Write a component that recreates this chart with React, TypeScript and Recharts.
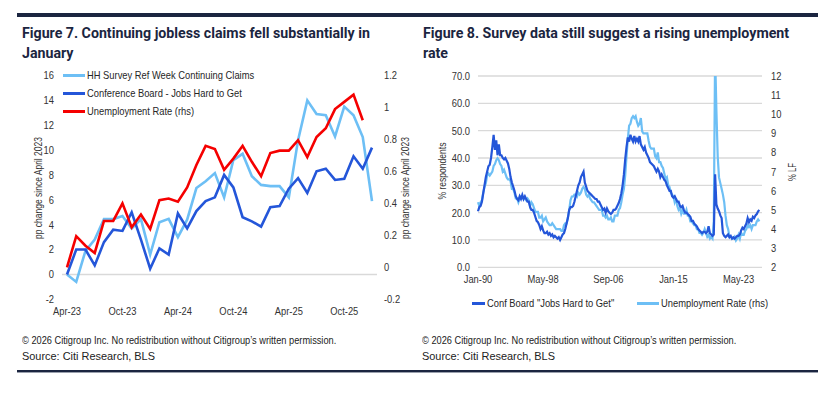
import React from 'react'
import {
  LineChart, Line, XAxis, YAxis, CartesianGrid, ReferenceLine, Legend,
} from 'recharts'

// Figure 7 – monthly, Apr-23 .. Jan-26, pp change since April 2023
const claimMonths = [
  'Apr-23', 'May-23', 'Jun-23', 'Jul-23', 'Aug-23', 'Sep-23', 'Oct-23', 'Nov-23', 'Dec-23',
  'Jan-24', 'Feb-24', 'Mar-24', 'Apr-24', 'May-24', 'Jun-24', 'Jul-24', 'Aug-24', 'Sep-24',
  'Oct-24', 'Nov-24', 'Dec-24', 'Jan-25', 'Feb-25', 'Mar-25', 'Apr-25', 'May-25', 'Jun-25',
  'Jul-25', 'Aug-25', 'Sep-25', 'Oct-25', 'Nov-25', 'Dec-25', 'Jan-26',
]
const hhContinuingClaims = [
  0, -0.6, 1.9, 2.8, 4.45, 4.45, 4.7, 3.7, 4.45, 1.6, 4.2, 4.47, 3.0, 4.4, 6.95, 7.5, 8.15,
  6.2, 9.2, 9.7, 7.9, 7.2, 7.1, 7.1, 6.2, 10.8, 14.0, 12.9, 12.8, 11.1, 13.5, 12.8, 11.05, 5.9,
]
const confBoardChange = [
  0, 2.0, 2.0, 0.73, 2.6, 3.6, 3.5, 5.0, 2.8, 0.46, 2.1, 1.6, 4.9, 3.7, 5.1, 5.9, 6.2,
  8.0, 7.0, 4.6, 4.27, 3.85, 5.4, 5.5, 6.9, 7.75, 6.55, 8.3, 8.5, 7.6, 7.7, 9.5, 8.5, 10.2,
]
const unempChange = [
  0, 0.195, 0.135, 0.09, 0.29, 0.29, 0.4, 0.25, 0.33, 0.24, 0.42, 0.43, 0.41, 0.5, 0.64,
  0.76, 0.74, 0.61, 0.68, 0.76, 0.66, 0.57, 0.715, 0.73, 0.73, 0.795, 0.69, 0.815, 0.87,
  0.99, 1.035, 1.08, 0.92, null,
]
const claimLeftTicks = [-2, 0, 2, 4, 6, 8, 10, 12, 14, 16]
const claimRightTicks = [-0.2, 0, 0.2, 0.4, 0.6, 0.8, 1, 1.2]

// Figure 8 – every second month (Jan, Mar, May, Jul, Sep, Nov), Jan-90 .. Jan-26
const jobsHardToGet = [
  20.5, 22, 22.5, 24, 27, 30, // 1990
  33, 35, 37, 37.5, 40, 44,
  48.5, 43, 46.5, 41, 45, 41,
  41, 40, 39.5, 40, 39, 38,
  36, 33, 31, 29.5, 28, 26,
  25, 24.5, 26, 25, 26.5, 25, // 1995
  26, 25, 24, 24, 22, 21,
  21, 20, 18.5, 17, 16.5, 15.5,
  14, 15, 13.5, 12.5, 12.5, 13,
  12, 12.5, 11.5, 12, 11, 11.5,
  11, 10.5, 11, 10, 11, 12, // 2000
  12.5, 14, 16, 18, 21, 22,
  22, 22.5, 24, 26, 28, 30,
  31, 33, 34, 35, 31, 29.5,
  28, 27.5, 27, 26.5, 26, 25.5,
  25, 25, 24, 24, 23, 22, // 2005
  21, 21.5, 20, 21.5, 20.5, 20,
  19.5, 20, 21, 21, 21.5, 22.5,
  23.5, 25, 27, 30, 34, 39.5,
  44, 47.5, 46, 48.5, 47, 46,
  48, 46, 47, 46, 48, 45, // 2010
  44, 43, 44, 42, 41, 40,
  38.5, 38, 37.5, 37, 36, 35,
  36, 35, 33, 34, 33, 32,
  31.5, 30, 29, 28, 28, 26,
  25.5, 26, 25, 24, 24, 22.5, // 2015
  22, 22.5, 21, 20, 20, 19.5,
  19, 18.5, 17, 17, 16, 15.5,
  15, 14, 13.5, 13, 12.5, 13,
  13, 12.5, 13, 15, 12.5, 12,
  11.5, 12, 34, 23, 21.5, 20.5, // 2020
  19, 18, 12.5, 11.5, 11, 11.5,
  12, 11, 11.5, 10.5, 11, 10.5,
  11, 11.5, 11.5, 12, 13.5, 14.5,
  14, 15, 16, 18, 16.5, 17.5,
  17, 18.5, 18, 19, 19.5, 20.5, // 2025
  21,
]
const unemploymentRate = [
  5.4, 5.2, 5.4, 5.5, 5.9, 6.2, // 1990
  6.4, 6.8, 6.9, 6.8, 6.9, 7.0,
  7.3, 7.4, 7.6, 7.7, 7.6, 7.4,
  7.3, 7.0, 7.1, 6.9, 6.7, 6.6,
  6.6, 6.5, 6.1, 6.1, 5.9, 5.6,
  5.6, 5.4, 5.6, 5.7, 5.6, 5.6, // 1995
  5.6, 5.5, 5.6, 5.5, 5.2, 5.4,
  5.3, 5.1, 4.9, 4.9, 4.9, 4.6,
  4.6, 4.7, 4.4, 4.5, 4.6, 4.4,
  4.3, 4.2, 4.2, 4.3, 4.2, 4.1,
  4.0, 4.0, 4.0, 4.0, 3.9, 3.9, // 2000
  4.2, 4.3, 4.3, 4.6, 5.0, 5.5,
  5.7, 5.7, 5.8, 5.8, 5.7, 5.9,
  5.8, 5.9, 6.1, 6.2, 6.1, 5.8,
  5.7, 5.8, 5.6, 5.5, 5.4, 5.4,
  5.3, 5.2, 5.1, 5.0, 5.0, 5.0, // 2005
  4.7, 4.7, 4.6, 4.7, 4.5, 4.5,
  4.6, 4.4, 4.4, 4.7, 4.7, 4.7,
  5.0, 5.1, 5.4, 5.8, 6.1, 6.8,
  7.8, 8.7, 9.4, 9.5, 9.8, 9.9,
  9.8, 9.9, 9.6, 9.4, 9.5, 9.8, // 2010
  9.1, 9.0, 9.0, 9.0, 9.0, 8.6,
  8.3, 8.2, 8.2, 8.2, 7.8, 7.7,
  8.0, 7.5, 7.5, 7.3, 7.2, 6.9,
  6.6, 6.7, 6.3, 6.2, 5.9, 5.8,
  5.7, 5.4, 5.6, 5.2, 5.0, 5.1, // 2015
  4.8, 5.0, 4.8, 4.8, 5.0, 4.7,
  4.7, 4.4, 4.4, 4.3, 4.2, 4.2,
  4.0, 4.0, 3.8, 3.8, 3.7, 3.8,
  4.0, 3.8, 3.6, 3.7, 3.5, 3.6,
  3.5, 4.4, 13.2, 10.2, 7.8, 6.7, // 2020
  6.4, 6.1, 5.8, 5.4, 4.7, 4.2,
  4.0, 3.6, 3.6, 3.5, 3.5, 3.6,
  3.4, 3.5, 3.7, 3.5, 3.8, 3.7,
  3.7, 3.9, 4.0, 4.2, 4.1, 4.2,
  4.0, 4.2, 4.2, 4.2, 4.4, 4.5, // 2025
  4.4,
]
const surveyTickMonths = [0, 100, 200, 300, 400]
const surveyTickLabels = ['Jan-90', 'May-98', 'Sep-06', 'Jan-15', 'May-23']
const surveyLeftTicks = [0, 10, 20, 30, 40, 50, 60, 70]
const surveyRightTicks = [2, 3, 4, 5, 6, 7, 8, 9, 10, 11, 12]

const NAVY = '#1b2540'
const LIGHT = '#6dbff5'
const DARK = '#2456d9'
const RED = '#f50000'
const TEXT = '#333333'
const chartFont = "'Liberation Sans', Arial, sans-serif"
const docFont = "Roboto, 'Liberation Sans', Arial, sans-serif"
const SQUEEZE = 0.85

const claimsData = claimMonths.map((m, i) => ({
  month: m,
  hh: hhContinuingClaims[i],
  cb: confBoardChange[i],
  ur: unempChange[i],
}))

const surveyData = jobsHardToGet.map((v, i) => ({
  m: i * 2,
  jhtg: v,
  ur: unemploymentRate[i],
}))

// tick text drawn a little condensed, like the narrow Arial of the source
const NarrowTick = ({ x, y, payload, textAnchor, fmt, top }: any) => {
  const label = fmt ? fmt(payload.value) : String(payload.value)
  return (
    <text
      transform={`translate(${x},${y}) scale(${SQUEEZE},1)`}
      textAnchor={textAnchor}
      dy={top ? '0.71em' : '0.355em'}
      fontSize={11}
      fill={TEXT}
    >
      {label}
    </text>
  )
}

const AxisTitle = ({ cx, cy, text, len }: any) => (
  <text
    x={cx}
    y={cy}
    transform={`rotate(-90 ${cx} ${cy})`}
    textAnchor="middle"
    dominantBaseline="central"
    fontSize={10.5}
    fill={TEXT}
    textLength={len}
    lengthAdjust="spacingAndGlyphs"
  >
    {text}
  </text>
)

const LegendRow = ({ color, name, width }: any) => (
  <div style={{ display: 'flex', alignItems: 'center', width, whiteSpace: 'nowrap' }}>
    <span style={{ display: 'inline-block', width: 22, height: 3, background: color, marginRight: 2 }} />
    <span style={{ display: 'inline-block', transform: `scaleX(${SQUEEZE})`, transformOrigin: 'left center' }}>{name}</span>
  </div>
)

const ClaimsLegend = () => (
  <div style={{ fontSize: 11, color: '#262626', lineHeight: '17.8px' }}>
    <LegendRow color={LIGHT} name="HH Survey Ref Week Continuing Claims" />
    <LegendRow color={DARK} name="Conference Board - Jobs Hard to Get" />
    <LegendRow color={RED} name="Unemployment Rate (rhs)" />
  </div>
)

const SurveyLegend = () => (
  <div style={{ display: 'flex', fontSize: 11, color: '#262626', lineHeight: '16px' }}>
    <LegendRow color={DARK} name={'Conf Board "Jobs Hard to Get"'} width={165} />
    <LegendRow color={LIGHT} name="Unemployment Rate (rhs)" />
  </div>
)

const titleStyle: React.CSSProperties = {
  position: 'absolute',
  fontFamily: docFont,
  fontWeight: 700,
  fontSize: 14.2,
  lineHeight: '20px',
  color: NAVY,
  whiteSpace: 'nowrap',
}

const noteStyle: React.CSSProperties = {
  position: 'absolute',
  fontFamily: chartFont,
  color: '#222',
  whiteSpace: 'nowrap',
  transformOrigin: 'left center',
}

export default function App() {
  return (
    <div style={{ position: 'absolute', left: 0, top: 0, width: 838, height: 397, background: '#fff', fontFamily: chartFont }}>
      <div style={{ position: 'absolute', left: 17, top: 13, width: 801, height: 3.5, background: NAVY }} />

      <div style={{ ...titleStyle, left: 22, top: 23 }}>
        Figure 7. Continuing jobless claims fell substantially in<br />January
      </div>
      <div style={{ ...titleStyle, left: 423, top: 23 }}>
        Figure 8. Survey data still suggest a rising unemployment<br />rate
      </div>

      <div style={{ position: 'absolute', left: 0, top: 0 }}>
        <LineChart width={420} height={330} data={claimsData} margin={{ top: 75.5, right: 13, bottom: 10.7, left: 22 }}>
          <XAxis
            dataKey="month"
            interval={5}
            axisLine={false}
            tickLine={false}
            height={20}
            padding={{ left: 5, right: 5 }}
            tick={<NarrowTick top />}
          />
          <YAxis
            yAxisId="left"
            domain={[-2, 16]}
            ticks={claimLeftTicks}
            interval={0}
            width={40}
            axisLine={false}
            tickLine={false}
            tickSize={0}
            tickMargin={8}
            tick={<NarrowTick />}
            label={<AxisTitle cx={37.5} cy={188} len={102} text="pp change since April 2023" />}
          />
          <YAxis
            yAxisId="right"
            orientation="right"
            domain={[-0.2, 1.2]}
            ticks={claimRightTicks}
            interval={0}
            width={30}
            axisLine={false}
            tickLine={false}
            tickSize={0}
            tickMargin={7}
            tick={<NarrowTick />}
            label={<AxisTitle cx={405} cy={188} len={102} text="pp change since April 2023" />}
          />
          <ReferenceLine yAxisId="left" y={0} stroke="#d9d9d9" strokeWidth={1.5} />
          <Legend
            content={<ClaimsLegend />}
            layout="horizontal"
            verticalAlign="middle"
            align="center"
            wrapperStyle={{ top: 67, left: 63, width: 'auto' }}
          />
          <Line yAxisId="left" dataKey="hh" name="HH Survey Ref Week Continuing Claims" stroke={LIGHT} strokeWidth={2.6} dot={false} isAnimationActive={false} />
          <Line yAxisId="left" dataKey="cb" name="Conference Board - Jobs Hard to Get" stroke={DARK} strokeWidth={2.6} dot={false} isAnimationActive={false} />
          <Line yAxisId="right" dataKey="ur" name="Unemployment Rate (rhs)" stroke={RED} strokeWidth={2.6} dot={false} isAnimationActive={false} />
        </LineChart>
      </div>

      <div style={{ position: 'absolute', left: 410, top: 0 }}>
        <LineChart width={428} height={330} data={surveyData} margin={{ top: 76, right: 36, bottom: 42.7, left: 28 }}>
          <CartesianGrid yAxisId="left" vertical={false} stroke="#d9d9d9" strokeWidth={1.3} />
          <XAxis
            dataKey="m"
            type="number"
            domain={[0, 436]}
            ticks={surveyTickMonths}
            interval={0}
            axisLine={false}
            tickLine={false}
            height={20}
            tick={<NarrowTick top fmt={(v: number) => surveyTickLabels[surveyTickMonths.indexOf(v)]} />}
          />
          <YAxis
            yAxisId="left"
            domain={[0, 70]}
            ticks={surveyLeftTicks}
            interval={0}
            width={40}
            axisLine={false}
            tickLine={false}
            tickSize={0}
            tickMargin={8}
            tick={<NarrowTick fmt={(v: number) => v.toFixed(1)} />}
            label={<AxisTitle cx={32} cy={171} len={57} text="% respondents" />}
          />
          <YAxis
            yAxisId="right"
            orientation="right"
            domain={[2, 12]}
            allowDataOverflow
            ticks={surveyRightTicks}
            interval={0}
            width={40}
            axisLine={false}
            tickLine={false}
            tickSize={0}
            tickMargin={9}
            tick={<NarrowTick />}
            label={<AxisTitle cx={382} cy={172} len={18} text="% LF" />}
          />
          <Legend
            content={<SurveyLegend />}
            layout="horizontal"
            verticalAlign="middle"
            align="center"
            wrapperStyle={{ top: 295, left: 62, width: 'auto' }}
          />
          <Line yAxisId="right" dataKey="ur" name="Unemployment Rate (rhs)" stroke={LIGHT} strokeWidth={2.2} dot={false} isAnimationActive={false} />
          <Line yAxisId="left" dataKey="jhtg" name={'Conf Board "Jobs Hard to Get"'} stroke={DARK} strokeWidth={2.2} dot={false} isAnimationActive={false} />
        </LineChart>
      </div>

      <div style={{ ...noteStyle, left: 22, top: 334, fontSize: 10.5, transform: 'scaleX(0.88)' }}>
        © 2026 Citigroup Inc. No redistribution without Citigroup’s written permission.
      </div>
      <div style={{ ...noteStyle, left: 22, top: 350, fontSize: 11.5, transform: 'scaleX(0.95)' }}>Source: Citi Research, BLS</div>
      <div style={{ ...noteStyle, left: 422, top: 334, fontSize: 10.5, transform: 'scaleX(0.88)' }}>
        © 2026 Citigroup Inc. No redistribution without Citigroup’s written permission.
      </div>
      <div style={{ ...noteStyle, left: 422, top: 350, fontSize: 11.5, transform: 'scaleX(0.95)' }}>Source: Citi Research, BLS</div>

      <div style={{ position: 'absolute', left: 17, top: 369.5, width: 801, height: 2, background: NAVY }} />
      <div style={{ position: 'absolute', left: 17, top: 371.5, width: 801, height: 1, background: '#9aa0ad' }} />
    </div>
  )
}
